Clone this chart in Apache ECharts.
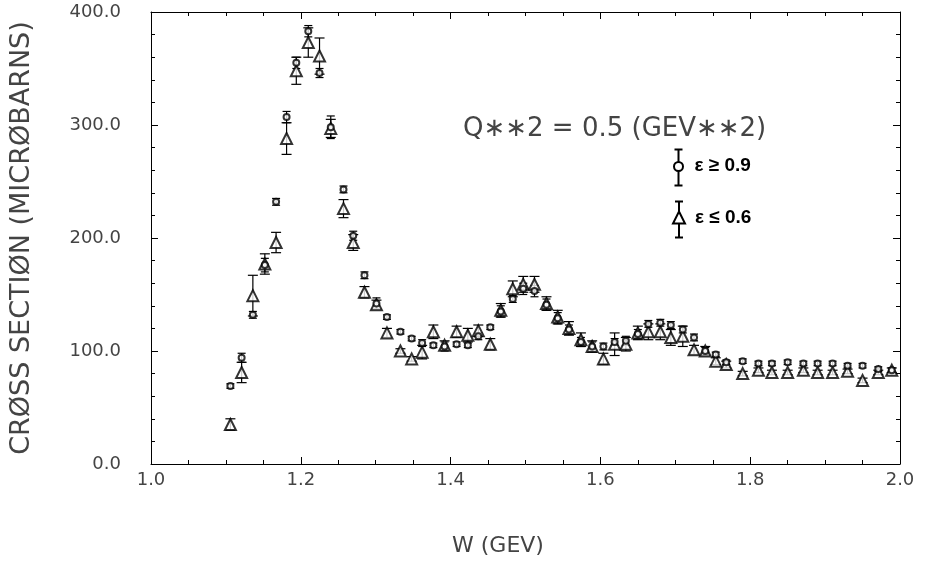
<!doctype html>
<html>
<head>
<meta charset="utf-8">
<title>Cross section vs W</title>
<script src="https://cdn.jsdelivr.net/npm/echarts@6/dist/echarts.min.js"></script>
<style>
  html, body { margin: 0; background: #fff; }
  #main { width: 928px; height: 567px; }
</style>
</head>
<body>
<div id="main"></div>
<script>
// W (GeV) of each measured point
var wValues = [
  1.106, 1.121, 1.136, 1.152, 1.167, 1.181, 1.194, 1.210, 1.225, 1.240,
  1.257, 1.270, 1.285, 1.301, 1.315, 1.333, 1.348, 1.362, 1.377, 1.392,
  1.408, 1.423, 1.437, 1.453, 1.467, 1.483, 1.497, 1.512, 1.528, 1.543,
  1.558, 1.574, 1.589, 1.604, 1.619, 1.634, 1.650, 1.664, 1.680, 1.694,
  1.710, 1.725, 1.740, 1.754, 1.768, 1.790, 1.811, 1.829, 1.850, 1.871,
  1.890, 1.910, 1.930, 1.950, 1.971, 1.989
];
// eps >= 0.9 (circles)
var hiEpsValues = [
  69, 94, 132, 176, 232, 307, 355, 383, 346, 298,
  243, 202, 167, 142, 130, 117, 111, 107, 105, 104,
  106, 105, 113, 121, 135, 146, 155, 153, 141, 129,
  119, 108, 104, 104, 108, 109, 115, 124, 125, 123,
  119, 112, 100, 97, 90, 91, 89, 89, 90, 89,
  89, 89, 87, 87, 84, 83
];
var hiEpsErrors = [
  2, 4, 3, 6, 3, 5, 5, 5, 4, 10,
  3, 4, 3, 5, 2, 2, 2, 3, 2, 4,
  2, 2, 3, 2, 5, 3, 5, 5, 5, 5,
  4, 4, 4, 3, 3, 4, 4, 3, 3, 3,
  3, 3, 3, 2, 2, 2, 2, 2, 2, 2,
  2, 2, 2, 2, 2, 2
];
// eps <= 0.6 (triangles)
var loEpsValues = [
  35, 81, 149, 177, 196, 288, 348, 373, 361, 297,
  226, 196, 152, 141, 116, 100, 93, 99, 117, 105,
  117, 114, 118, 106, 136, 155, 159, 159, 142, 130,
  120, 110, 104, 93, 106, 106, 116, 117, 117, 112,
  113, 101, 100, 91, 88, 80, 83, 81, 81, 83,
  81, 81, 82, 74, 81, 83
];
var loEpsErrors = [
  5, 9, 18, 9, 9, 14, 12, 13, 16, 8,
  8, 7, 5, 4, 4, 2, 2, 6, 6, 4,
  5, 6, 5, 5, 6, 7, 7, 7, 6, 6,
  6, 6, 5, 5, 10, 6, 6, 7, 7, 7,
  9, 4, 4, 3, 3, 2, 2, 2, 2, 2,
  2, 2, 2, 2, 2, 2
];

var plotFont = '"DejaVu Sans", sans-serif';
var inkColor = '#000';
var textColor = '#444';
var legendFont = 'bold 19px "Liberation Sans", Arial, sans-serif';

var chart = echarts.init(document.getElementById('main'), null, { renderer: 'canvas' });

function points(values) {
  return wValues.map(function (w, i) { return [w, values[i]]; });
}

function errorBars(values, errors, capHalf) {
  var data = wValues.map(function (w, i) {
    return [w, values[i] - errors[i], values[i] + errors[i]];
  });
  return {
    type: 'custom',
    silent: true,
    z: 1,
    encode: { x: 0, y: [1, 2] },
    data: data,
    renderItem: function (params, api) {
      var lo = api.coord([api.value(0), api.value(1)]);
      var hi = api.coord([api.value(0), api.value(2)]);
      var style = { stroke: inkColor, lineWidth: 1.2 };
      return {
        type: 'group',
        children: [
          { type: 'line', shape: { x1: lo[0], y1: lo[1], x2: hi[0], y2: hi[1] }, style: style },
          { type: 'line', shape: { x1: lo[0] - capHalf, y1: lo[1], x2: lo[0] + capHalf, y2: lo[1] }, style: style },
          { type: 'line', shape: { x1: hi[0] - capHalf, y1: hi[1], x2: hi[0] + capHalf, y2: hi[1] }, style: style }
        ]
      };
    }
  };
}

function frameAxis(extra) {
  var base = {
    axisLine: { show: true, onZero: false, lineStyle: { color: inkColor, width: 1 } },
    axisTick: { show: true, inside: true, length: 7, lineStyle: { color: inkColor } },
    splitLine: { show: false },
    minorSplitLine: { show: false }
  };
  return Object.assign(base, extra);
}

function oneDecimal(v) { return v.toFixed(1); }

chart.setOption({
  backgroundColor: '#fff',
  animation: false,
  grid: { left: 148, right: 28, top: 12, bottom: 103 },
  xAxis: [
    frameAxis({
      type: 'value', min: 1.0, max: 2.0, interval: 0.2, position: 'bottom',
      minorTick: { show: true, splitNumber: 4, length: 4, lineStyle: { color: inkColor } },
      axisLabel: { formatter: oneDecimal, fontFamily: plotFont, fontSize: 18, color: textColor, margin: 7 }
    }),
    frameAxis({
      type: 'value', min: 1.0, max: 2.0, interval: 0.2, position: 'top',
      minorTick: { show: true, splitNumber: 4, length: 4, lineStyle: { color: inkColor } },
      axisLabel: { show: false }
    })
  ],
  yAxis: [
    frameAxis({
      type: 'value', min: 0, max: 400, interval: 100, position: 'left',
      minorTick: { show: true, splitNumber: 5, length: 4, lineStyle: { color: inkColor } },
      axisLabel: { formatter: oneDecimal, fontFamily: plotFont, fontSize: 18, color: textColor, margin: 30 },
      name: 'CRØSS SECTIØN (MICRØBARNS)', nameLocation: 'middle', nameGap: 116,
      nameTextStyle: { fontFamily: plotFont, fontSize: 27, color: textColor }
    }),
    frameAxis({
      type: 'value', min: 0, max: 400, interval: 100, position: 'right',
      minorTick: { show: true, splitNumber: 5, length: 4, lineStyle: { color: inkColor } },
      axisLabel: { show: false }
    })
  ],
  graphic: [
    {
      type: 'text', left: 463, top: 116, silent: true,
      style: { text: 'Q∗∗2 = 0.5 (GEV∗∗2)', font: '26px ' + plotFont, fill: textColor }
    },
    {
      type: 'text', left: 452, top: 535, silent: true,
      style: { text: 'W (GEV)', font: '22px ' + plotFont, fill: textColor }
    },
    {
      type: 'group', left: 672, top: 147, silent: true,
      children: [
        { type: 'line', shape: { x1: 8, y1: 0, x2: 8, y2: 36 }, style: { stroke: inkColor, lineWidth: 2 } },
        { type: 'line', shape: { x1: 4, y1: 0, x2: 12, y2: 0 }, style: { stroke: inkColor, lineWidth: 2 } },
        { type: 'line', shape: { x1: 4, y1: 36, x2: 12, y2: 36 }, style: { stroke: inkColor, lineWidth: 2 } },
        { type: 'circle', shape: { cx: 8, cy: 17, r: 4.5 }, style: { stroke: inkColor, fill: '#fff', lineWidth: 2 } },
        { type: 'text', x: 24, y: 7, style: { text: 'ε ≥ 0.9', font: legendFont, fill: inkColor } }
      ]
    },
    {
      type: 'group', left: 672, top: 199, silent: true,
      children: [
        { type: 'line', shape: { x1: 8, y1: 0, x2: 8, y2: 36 }, style: { stroke: inkColor, lineWidth: 2 } },
        { type: 'line', shape: { x1: 4, y1: 0, x2: 12, y2: 0 }, style: { stroke: inkColor, lineWidth: 2 } },
        { type: 'line', shape: { x1: 4, y1: 36, x2: 12, y2: 36 }, style: { stroke: inkColor, lineWidth: 2 } },
        { type: 'polygon', shape: { points: [[8, 10], [14, 22], [2, 22]] }, style: { stroke: inkColor, fill: '#fff', lineWidth: 2 } },
        { type: 'text', x: 24, y: 7, style: { text: 'ε ≤ 0.6', font: legendFont, fill: inkColor } }
      ]
    }
  ],
  series: [
    errorBars(loEpsValues, loEpsErrors, 5),
    errorBars(hiEpsValues, hiEpsErrors, 4),
    {
      name: 'ε ≤ 0.6', type: 'scatter', symbol: 'emptyTriangle', symbolSize: 11,
      itemStyle: { color: inkColor, borderColor: inkColor, borderWidth: 1.3 },
      data: points(loEpsValues), z: 3, silent: true
    },
    {
      name: 'ε ≥ 0.9', type: 'scatter', symbol: 'emptyCircle', symbolSize: 6,
      itemStyle: { color: inkColor, borderColor: inkColor, borderWidth: 1.3 },
      data: points(hiEpsValues), z: 4, silent: true
    }
  ]
});

window.onresize = chart.resize;
</script>
</body>
</html>
